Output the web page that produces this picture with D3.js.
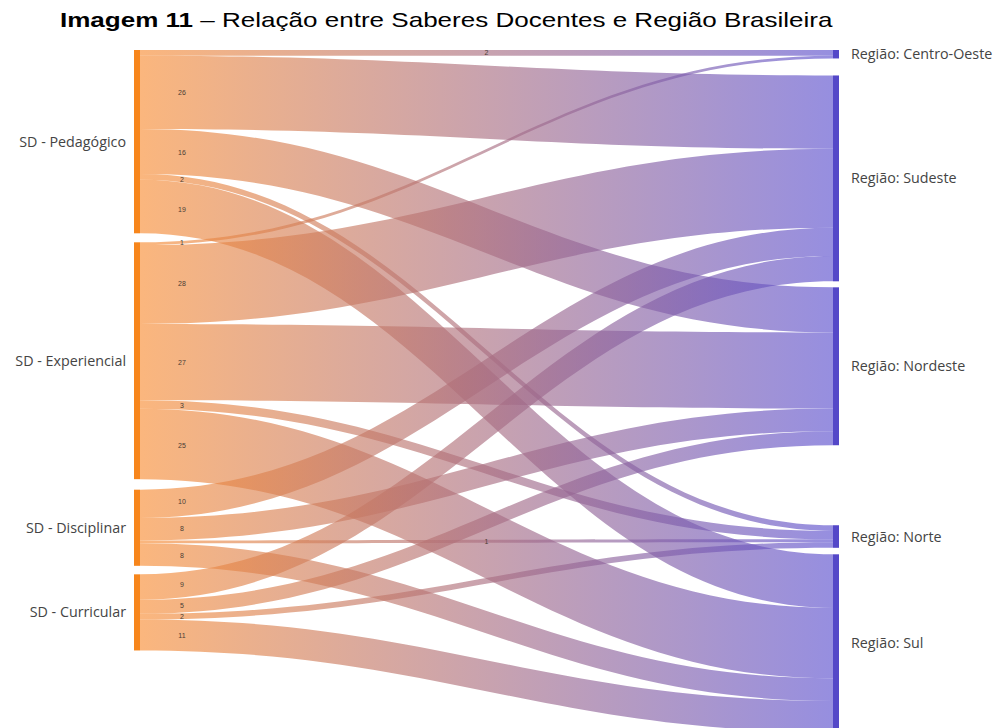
<!DOCTYPE html>
<html>
<head>
<meta charset="utf-8">
<script src="https://cdn.jsdelivr.net/npm/d3@7/dist/d3.min.js"></script>
<style>
    body { margin: 0; background: #fff; }
    .node-label { font-family: "Open Sans", "Noto Sans", sans-serif; font-size: 14.3px; fill: #444; }
    .link-label { font-family: "Liberation Sans", Arial, sans-serif; font-size: 7px; fill: #4a3c34; }
    .title { font-family: "Liberation Sans", Arial, sans-serif; font-size: 20px; fill: #000; }
</style>
</head>
<body>
<div id="chart"></div>
<script>
// categories
const sources = ["SD - Pedagógico", "SD - Experiencial", "SD - Disciplinar", "SD - Curricular"];
const targets = ["Região: Centro-Oeste", "Região: Sudeste", "Região: Nordeste", "Região: Norte", "Região: Sul"];

// counts per target region (same order as targets)
const pedagogico   = [2, 26, 16, 2, 19];
const experiencial = [1, 28, 27, 3, 25];
const disciplinar  = [0, 10, 8, 1, 8];
const curricular   = [0, 9, 5, 2, 11];

const flows = [pedagogico, experiencial, disciplinar, curricular];

// layout
const width = 1003, height = 728;
const topY = 50;
const xLeft = 134, xRight = 833, barW = 6;
const sourceGaps = [0, 9, 10.5, 8.5];       // space above each source node
const targetGaps = [0, 17, 6, 80, 6.5];      // space above each target node
const curvature = 0.42;
const titleX = 60, titleY = 27, titleWidth = 773;

// value -> pixel thickness
const k = d3.scaleLinear().domain([0, 100]).range([0, 282]);

// build nodes
let sourceNodes = sources.map((name, i) => ({name: name, value: d3.sum(flows[i])}));
let targetNodes = targets.map((name, j) => ({name: name, value: d3.sum(flows, f => f[j])}));

function stack(nodes, gaps) {
    let y = topY;
    nodes.forEach(function(n, i) {
        y += gaps[i];
        n.y0 = y;
        n.y1 = y + k(n.value);
        y = n.y1;
    });
}
stack(sourceNodes, sourceGaps);
stack(targetNodes, targetGaps);

// build links: ordered by target inside a source, by source inside a target
let links = [];
let sOff = sourceNodes.map(n => n.y0);
let tOff = targetNodes.map(n => n.y0);
flows.forEach(function(f, i) {
    f.forEach(function(v, j) {
        if (v === 0) return;
        let w = k(v);
        links.push({source: i, target: j, value: v, sy0: sOff[i], sy1: sOff[i] + w});
        sOff[i] += w;
    });
});
// target side offsets by source order
targets.forEach(function(t, j) {
    links.filter(l => l.target === j)
        .sort((a, b) => a.source - b.source)
        .forEach(function(l) {
            let w = k(l.value);
            l.ty0 = tOff[j];
            l.ty1 = tOff[j] + w;
            tOff[j] += w;
        });
});

const x0 = xLeft + barW, x1 = xRight;
const xa = x0 + (x1 - x0) * curvature, xb = x1 - (x1 - x0) * curvature;

function linkPath(l) {
    return `M${x0},${l.sy0} C${xa},${l.sy0} ${xb},${l.ty0} ${x1},${l.ty0}` +
        ` L${x1},${l.ty1} C${xb},${l.ty1} ${xa},${l.sy1} ${x0},${l.sy1} Z`;
}

// point on the centre curve at a given x (bisection on t)
function centreAt(l, x) {
    let ys = (l.sy0 + l.sy1) / 2, yt = (l.ty0 + l.ty1) / 2;
    let bez = (t, p0, p1, p2, p3) => (1-t)**3*p0 + 3*(1-t)**2*t*p1 + 3*(1-t)*t*t*p2 + t**3*p3;
    let lo = 0, hi = 1;
    for (let n = 0; n < 40; n++) {
        let mid = (lo + hi) / 2;
        if (bez(mid, x0, xa, xb, x1) < x) lo = mid; else hi = mid;
    }
    return bez(lo, ys, ys, yt, yt);
}

const svg = d3.select("#chart").append("svg")
    .attr("width", width)
    .attr("height", height);

// gradient orange -> purple
const defs = svg.append("defs");
const grad = defs.append("linearGradient")
    .attr("id", "linkGrad")
    .attr("gradientUnits", "userSpaceOnUse")
    .attr("x1", x0).attr("x2", x1)
    .attr("y1", 0).attr("y2", 0);
grad.append("stop").attr("offset", "0%").attr("stop-color", "#f88d34");
grad.append("stop").attr("offset", "100%").attr("stop-color", "#5b4fce");

// title, stretched horizontally like the reference
const title = svg.append("text")
    .attr("class", "title");
title.append("tspan").attr("font-weight", "bold").text("Imagem 11");
title.append("tspan").text(" – Relação entre Saberes Docentes e Região Brasileira");
let natural = title.node().getComputedTextLength();
title.attr("transform", `translate(${titleX}, ${titleY}) scale(${titleWidth / natural}, 1)`);

// links
svg.append("g")
    .selectAll("path")
    .data(links)
    .enter()
    .append("path")
    .attr("d", linkPath)
    .attr("fill", "url(#linkGrad)")
    .attr("fill-opacity", 0.64);

// source bars
svg.append("g")
    .selectAll("rect")
    .data(sourceNodes)
    .enter()
    .append("rect")
    .attr("x", xLeft)
    .attr("y", d => d.y0)
    .attr("width", barW)
    .attr("height", d => d.y1 - d.y0)
    .attr("fill", "#f7861c");

// target bars
svg.append("g")
    .selectAll("rect")
    .data(targetNodes)
    .enter()
    .append("rect")
    .attr("x", xRight)
    .attr("y", d => d.y0)
    .attr("width", barW)
    .attr("height", d => d.y1 - d.y0)
    .attr("fill", "#5448c8");

// node labels
svg.append("g")
    .selectAll("text")
    .data(sourceNodes)
    .enter()
    .append("text")
    .attr("class", "node-label")
    .attr("x", xLeft - 8)
    .attr("y", d => (d.y0 + d.y1) / 2)
    .attr("dy", "0.35em")
    .attr("text-anchor", "end")
    .text(d => d.name);

svg.append("g")
    .selectAll("text")
    .data(targetNodes)
    .enter()
    .append("text")
    .attr("class", "node-label")
    .attr("x", xRight + barW + 12)
    .attr("y", d => (d.y0 + d.y1) / 2)
    .attr("dy", "0.35em")
    .text(d => d.name);

// link value labels
svg.append("g")
    .selectAll("text")
    .data(links)
    .enter()
    .append("text")
    .attr("class", "link-label")
    .each(function(d) {
        let flat = Math.abs((d.sy0 + d.sy1) / 2 - (d.ty0 + d.ty1) / 2) < 6;
        let x = flat ? (x0 + x1) / 2 : x0 + 42;
        d3.select(this)
            .attr("x", x)
            .attr("y", centreAt(d, x))
            .attr("dy", "0.35em")
            .attr("text-anchor", "middle");
    })
    .text(d => d.value);
</script>
</body>
</html>
